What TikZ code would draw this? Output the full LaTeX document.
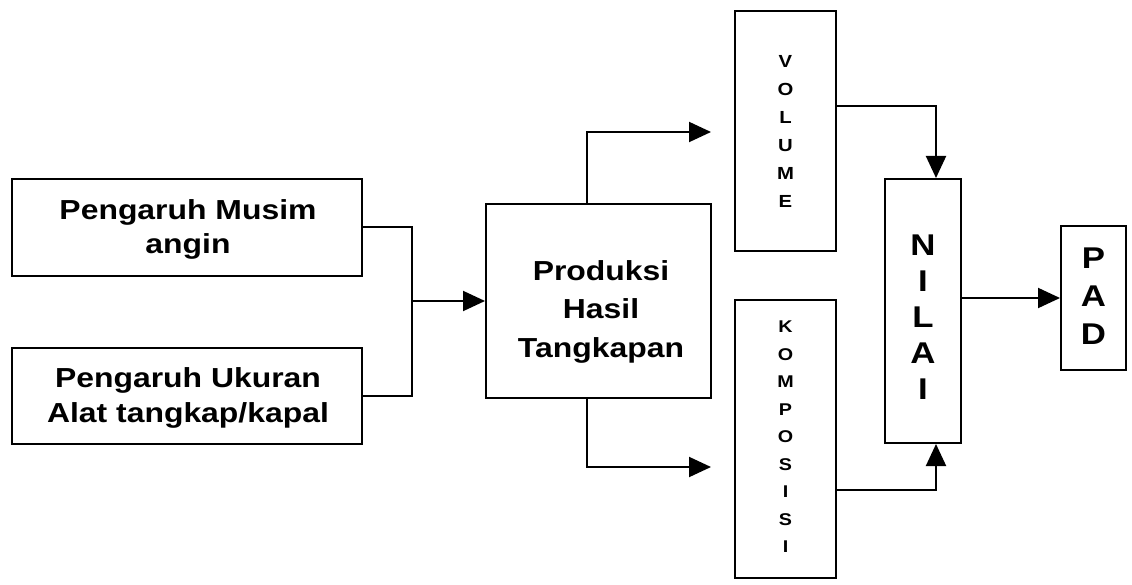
\documentclass[tikz,border=0pt]{standalone}
\usepackage{fontspec}
\setmainfont{Liberation Sans}
\newfontfamily\widesans[FakeStretch=1.16]{Liberation Sans}
\usetikzlibrary{arrows.meta}
\begin{document}
\begin{tikzpicture}[x=1pt,y=-1pt,
  box/.style={draw, line width=2pt, inner sep=0pt},
  txt/.style={inner sep=0pt, anchor=base, font=\widesans\bfseries\fontsize{27.5}{33}\selectfont},
  stack/.style 2 args={align=center, inner sep=0pt, font=\widesans\bfseries\fontsize{#1}{#2}\selectfont},
  conn/.style={line width=2pt},
  arr/.style={line width=2pt, -{Triangle[length=22pt,width=20pt]}},
  ]
\useasboundingbox (0,0) rectangle (1132,585);
% boxes
\node[box, minimum width=350pt, minimum height=97pt] (musim) at (187,227.5) {};
\node[box, minimum width=350pt, minimum height=96pt] (ukuran) at (187,396) {};
\node[box, minimum width=225pt, minimum height=194pt] (prod) at (598.5,301) {};
\node[box, minimum width=101pt, minimum height=240pt,
  label={[stack={17.5}{28}]center:{V\\O\\L\\U\\M\\E}}] (vol) at (785.5,131) {};
\node[box, minimum width=101pt, minimum height=278pt,
  label={[stack={17}{27.5}, yshift=2pt]center:{K\\O\\M\\P\\O\\S\\I\\S\\I}}] (komp) at (785.5,439) {};
\node[box, minimum width=76pt, minimum height=264pt,
  label={[stack={30}{36}, yshift=-6pt]center:{N\\I\\L\\A\\I}}] (nilai) at (923,311) {};
\node[box, minimum width=65pt, minimum height=144pt,
  label={[stack={30}{38}, yshift=2pt]center:{P\\A\\D}}] (pad) at (1093.5,298) {};
% box texts
\node[txt] (musimA) at (188,220) {Pengaruh Musim};
\node[txt] (musimB) at (188,253.5) {angin};
\node[txt] (ukuranA) at (188,387) {Pengaruh Ukuran};
\node[txt] (ukuranB) at (188,422) {Alat tangkap/kapal};
\node[txt] (prodA) at (601,280) {Produksi};
\node[txt] (prodB) at (601,318.5) {Hasil};
\node[txt] (prodC) at (601,357) {Tangkapan};

\coordinate (j) at (412,301);
\coordinate (pt1) at (587,132);
\coordinate (pt2) at (711,132);
\coordinate (pb1) at (587,467);
\coordinate (pb2) at (711,467);
\coordinate (v1) at (936,106);
\coordinate (k1) at (936,490);

\draw[conn] (musim.east) -| (j);
\draw[conn] (ukuran.east) -| (j);
\draw[arr] (j) -- (prod.west);
\draw[arr] (prod.north -| pt1) -- (pt1) -- (pt2);
\draw[arr] (prod.south -| pb1) -- (pb1) -- (pb2);
\draw[arr] (vol.east |- v1) -- (v1) -- (nilai.north -| v1);
\draw[arr] (komp.east |- k1) -- (k1) -- (nilai.south -| k1);
\draw[arr] (nilai.east |- pad.west) -- (pad.west);
\end{tikzpicture}
\end{document}
